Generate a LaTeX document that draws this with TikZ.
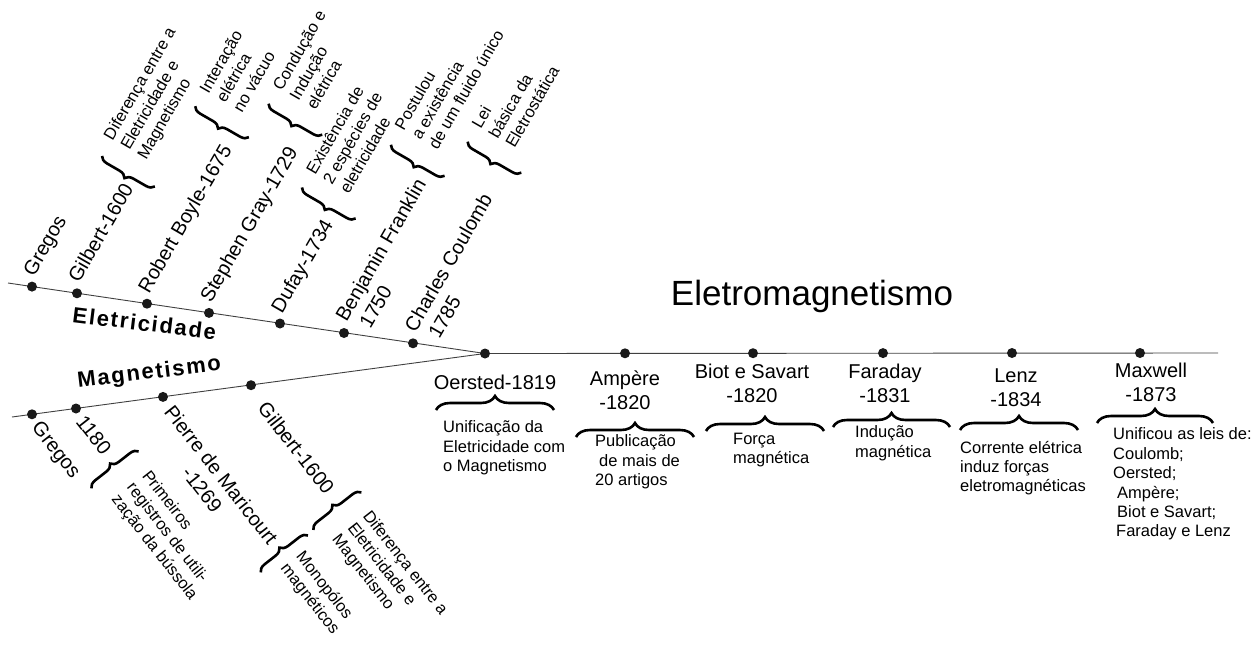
\documentclass[tikz,border=0pt]{standalone}
\usepackage{fontspec}
\setmainfont{Liberation Sans}
\newfontfamily\spacedfont{Liberation Sans}[LetterSpace=8]
\usetikzlibrary{decorations.pathreplacing}

\tikzset{
  dot/.style={circle, fill=black!90, inner sep=0pt, minimum size=10pt},
  lbl/.style={font=\fontsize{20}{24}\selectfont, inner sep=0pt},
  note/.style={font=\fontsize{16.5}{19.4}\selectfont, inner sep=0pt, align=left},
  brc/.style={decorate, decoration={brace, amplitude=#1}, line width=2.6pt},
  brc/.default=8pt,
  axis/.style={black!75, line width=0.9pt}
}

\begin{document}
\begin{tikzpicture}[x=1pt, y=1pt]
\useasboundingbox (0,0) rectangle (1258,-648);

% eixos
\coordinate (eIni) at (8,-283);
\coordinate (mIni) at (12,-417);
\coordinate (eFim) at (1218,-353);
\draw[axis] (eIni) -- (485,-353.5) -- (eFim);
\draw[axis] (mIni) -- (485,-353.5);

% pontos
\node[dot] (eGre) at (32,-286.6) {};
\node[dot] (eGil) at (77,-293.3) {};
\node[dot] (eBoy) at (147,-303.7) {};
\node[dot] (eGra) at (209,-312.9) {};
\node[dot] (eDuf) at (280,-323.5) {};
\node[dot] (eFra) at (344,-333) {};
\node[dot] (eCou) at (413,-343.3) {};
\node[dot] (mGre) at (32,-414.3) {};
\node[dot] (mBus) at (76,-408.5) {};
\node[dot] (mPie) at (163,-396.9) {};
\node[dot] (mGil) at (251,-385.2) {};
\node[dot] (oer) at (485,-353.5) {};
\node[dot] (amp) at (625,-353.3) {};
\node[dot] (bio) at (753,-353.2) {};
\node[dot] (far) at (883,-353.1) {};
\node[dot] (len) at (1012,-353) {};
\node[dot] (max) at (1140,-353) {};

% titulos
\node[font=\fontsize{35}{40}\selectfont, anchor=base] (tit) at (812,-305) {Eletromagnetismo};
\node[font={\spacedfont\bfseries\fontsize{22}{26}\selectfont}, rotate=-7, anchor=base] (eTit) at (143.5,-331) {Eletricidade};
\node[font={\spacedfont\bfseries\fontsize{22}{26}\selectfont}, rotate=7, anchor=base] (mTit) at (150,-379) {Magnetismo};

% Eletricidade
\begin{scope}[shift={(eGre.center)}, rotate=60, transform shape]
  \node[lbl, anchor=base west] (eGreT) at (9,3) {Gregos};
\end{scope}
\begin{scope}[shift={(eGil.center)}, rotate=60, transform shape]
  \node[lbl, anchor=base west] (eGilT) at (9,3) {Gilbert-1600};
  \draw[brc] (eGilT.base east) ++(12,-17) -- ++(0,61);
  \path (eGilT.base east) ++(30,27) node[note, anchor=west] (eGilN) {Diferença entre a\\Eletricidade e\\Magnetismo};
\end{scope}
\begin{scope}[shift={(eBoy.center)}, rotate=60, transform shape]
  \node[lbl, anchor=base west] (eBoyT) at (9,3) {Robert Boyle-1675};
  \draw[brc] (eBoyT.base east) ++(19,-8) -- ++(0,62);
  \path (eBoyT.base east) ++(36,35) node[note, anchor=west] (eBoyN) {Interação\\elétrica\\no vácuo};
\end{scope}
\begin{scope}[shift={(eGra.center)}, rotate=60, transform shape]
  \node[lbl, anchor=base west] (eGraT) at (9,3) {Stephen Gray-1729};
  \draw[brc] (eGraT.base east) ++(27,-12) -- ++(0,62);
  \path (eGraT.base east) ++(44,31) node[note, anchor=west] (eGraN) {Condução e\\Indução\\elétrica};
\end{scope}
\begin{scope}[shift={(eDuf.center)}, rotate=60, transform shape]
  \node[lbl, anchor=base west] (eDufT) at (9,3) {Dufay-1734};
  \draw[brc] (eDufT.base east) ++(16,-16) -- ++(0,62);
  \path (eDufT.base east) ++(33,27) node[note, anchor=west] (eDufN) {Existência de\\2 espécies de\\eletricidade};
\end{scope}
\begin{scope}[shift={(eFra.center)}, rotate=60, transform shape]
  \node[lbl, anchor=north west, align=left] (eFraT) at (10,17.5) {Benjamin Franklin\\\hspace*{6pt}1750};
  \draw[brc] (eFraT.north east) ++(16,-26) -- ++(0,62);
  \path (eFraT.north east) ++(34,18) node[note, anchor=west] (eFraN) {Postulou\\a existência\\de um fluido único};
\end{scope}
\begin{scope}[shift={(eCou.center)}, rotate=60, transform shape]
  \node[lbl, anchor=north west, align=left] (eCouT) at (10,17.5) {Charles Coulomb\\\hspace*{6pt}1785};
  \draw[brc] (eCouT.north east) ++(37,-26) -- ++(0,62);
  \path (eCouT.north east) ++(54,17) node[note, anchor=west] (eCouN) {Lei\\básica da\\Eletrostática};
\end{scope}

% Magnetismo
\begin{scope}[shift={(mGre.center)}, rotate=-52, transform shape]
  \node[lbl, anchor=base west] (mGreT) at (10,-9) {Gregos};
\end{scope}
\begin{scope}[shift={(mBus.center)}, rotate=-52, transform shape]
  \node[lbl, anchor=base west] (mBusT) at (10,-9) {1180};
  \draw[brc] (mBusT.base east) ++(19,-28) -- ++(0,60);
  \path (mBusT.base east) ++(40,4) node[note, anchor=west] (mBusN) {Primeiros\\registros de utili-\\zação da bússola};
\end{scope}
\begin{scope}[shift={(mPie.center)}, rotate=-52, transform shape]
  \node[lbl, anchor=north west, align=center] (mPieT) at (12,5.5) {Pierre de Maricourt\\-1269};
  \draw[brc] (mPieT.north east) ++(16,-36.5) -- ++(0,60);
  \path (mPieT.north east) ++(25,-4.9) node[note, anchor=west] (mPieN) {Monopólos\\magnéticos};
\end{scope}
\begin{scope}[shift={(mGil.center)}, rotate=-52, transform shape]
  \node[lbl, anchor=base west] (mGilT) at (22,-10) {Gilbert-1600};
  \draw[brc] (mGilT.base east) ++(20,-30) -- ++(0,61);
  \path (mGilT.base east) ++(39,2) node[note, anchor=west] (mGilN) {Diferença entre a\\Eletricidade e\\Magnetismo};
\end{scope}

% Eletromagnetismo
\node[lbl, anchor=base] (oerT) at (495,-389) {Oersted-1819};
\draw[brc=14pt] (436,-410) -- (554,-410);
\node[note, anchor=north west] (oerN) at (443,-420.7) {Unificação da\\Eletricidade com\\o Magnetismo};

\node[lbl, anchor=north, align=center] (ampT) at (625,-370.5) {Ampère\\-1820};
\draw[brc=14pt] (576,-437) -- (694,-437);
\node[note, anchor=north west] (ampN) at (595,-434.7) {Publicação\\\hspace*{4pt}de mais de\\20 artigos};

\node[lbl, anchor=north, align=center] (bioT) at (752,-363.4) {Biot e Savart\\-1820};
\draw[brc=14pt] (706,-431) -- (824,-431);
\node[note, anchor=north west] (bioN) at (733,-432.7) {Força\\magnética};

\node[lbl, anchor=north, align=center] (farT) at (885,-363.4) {Faraday\\-1831};
\draw[brc=14pt] (833,-427) -- (950,-427);
\node[note, anchor=north west] (farN) at (855,-425.7) {Indução\\magnética};

\node[lbl, anchor=north, align=center] (lenT) at (1016,-368.4) {Lenz\\-1834};
\draw[brc=14pt] (960,-430) -- (1078,-430);
\node[note, anchor=north west] (lenN) at (960,-440.7) {Corrente elétrica\\induz forças\\eletromagnéticas};

\node[lbl, anchor=north, align=center] (maxT) at (1151,-362.4) {Maxwell\\-1873};
\draw[brc=14pt] (1097,-423) -- (1213,-423);
\node[note, anchor=north west] (maxN) at (1113,-427.7) {Unificou as leis de:\\Coulomb;\\Oersted;\\\hspace*{4pt}Ampère;\\\hspace*{4pt}Biot e Savart;\\\hspace*{3pt}Faraday e Lenz};
\end{tikzpicture}
\end{document}
